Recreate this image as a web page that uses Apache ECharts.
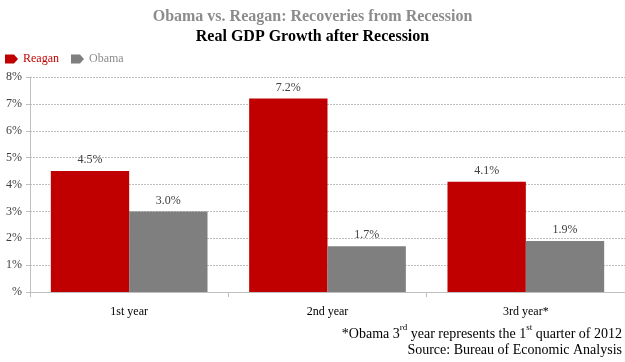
<!DOCTYPE html>
<html><head><meta charset="utf-8">
<script src="https://cdn.jsdelivr.net/npm/echarts@6/dist/echarts.min.js"></script>
<style>html,body{margin:0;padding:0;background:#fff}#c{width:625px;height:362px}</style>
</head><body><div id="c"></div>
<script>
const categories = ['1st year', '2nd year', '3rd year*'];
const reagan = [4.5, 7.2, 4.1];
const obama = [3.0, 1.7, 1.9];
const yTicks = [0, 1, 2, 3, 4, 5, 6, 7, 8];

const serif = '"Liberation Serif", "DejaVu Serif", serif';
const chart = echarts.init(document.getElementById('c'));
chart.setOption({
  animation: false,
  title: [
    { text: 'Obama vs. Reagan: Recoveries from Recession', left: 'center', top: 4,
      textStyle: { fontFamily: serif, fontSize: 16, fontWeight: 'bold', color: '#8c8c8c' } },
    { text: 'Real GDP Growth after Recession', left: 'center', top: 24,
      textStyle: { fontFamily: serif, fontSize: 16, fontWeight: 'bold', color: '#000' } }
  ],
  legend: {
    left: 0, top: 48, itemWidth: 13, itemHeight: 9, itemGap: 12,
    icon: 'path://M0,0 L9,0 L13,4.5 L9,9 L0,9 Z',
    textStyle: { fontFamily: serif, fontSize: 12 },
    data: [
      { name: 'Reagan', textStyle: { color: '#C00000' } },
      { name: 'Obama', textStyle: { color: '#8c8c8c' } }
    ]
  },
  grid: { left: 30, right: 0, top: 77, bottom: 70, containLabel: false },
  xAxis: {
    type: 'category', data: categories,
    axisLine: { lineStyle: { color: '#bfbfbf' } },
    axisTick: { show: true, length: 5, lineStyle: { color: '#bfbfbf' } },
    axisLabel: { fontFamily: serif, fontSize: 12, color: '#000', margin: 14 }
  },
  yAxis: {
    type: 'value', min: 0, max: 8, interval: 1,
    axisLine: { show: true, lineStyle: { color: '#bfbfbf' } },
    axisTick: { show: true, length: 4, lineStyle: { color: '#bfbfbf' } },
    splitLine: { lineStyle: { color: '#bfbfbf', type: [2, 1], width: 1 } },
    axisLabel: { fontFamily: serif, fontSize: 12, color: '#404040', margin: 8,
      formatter: v => (v === 0 ? '%' : v + '%') }
  },
  series: [
    { name: 'Reagan', type: 'bar', data: reagan, barGap: '0%', barCategoryGap: '21%',
      itemStyle: { color: '#C00000' },
      label: { show: true, position: 'top', distance: 5, fontFamily: serif, fontSize: 12, color: '#404040',
        formatter: p => p.value.toFixed(1) + '%' } },
    { name: 'Obama', type: 'bar', data: obama,
      itemStyle: { color: '#7F7F7F' },
      label: { show: true, position: 'top', distance: 5, fontFamily: serif, fontSize: 12, color: '#404040',
        formatter: p => p.value.toFixed(1) + '%' } }
  ],
  graphic: [
    { type: 'text', right: 3, top: 323,
      style: {
        text: '{n|*Obama 3}{s|rd}{n| year represents the 1}{s|st}{n| quarter of 2012}',
        rich: {
          n: { fontFamily: serif, fontSize: 14, color: '#000', lineHeight: 18, verticalAlign: 'bottom' },
          s: { fontFamily: serif, fontSize: 9, color: '#000', lineHeight: 18, verticalAlign: 'top', padding: [0, 0, 7, 0] }
        }
      } },
    { type: 'text', right: 3, top: 343,
      style: { text: 'Source: Bureau of Economic Analysis', fontFamily: serif, fontSize: 14, fill: '#000' } }
  ]
});
</script></body></html>
